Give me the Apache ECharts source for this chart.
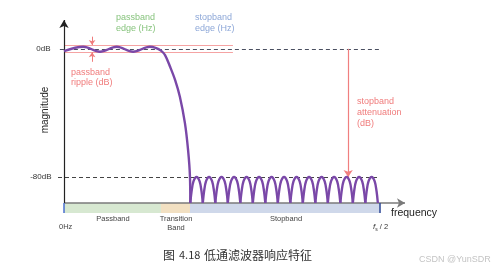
<!DOCTYPE html>
<html>
<head>
<meta charset="utf-8">
<script src="https://cdn.jsdelivr.net/npm/echarts@6/dist/echarts.min.js"></script>
<style>html,body{margin:0;padding:0;background:#fff}#c{width:494px;height:272px}</style>
</head>
<body>
<div id="c"></div>
<script>
// ---- data (x: 0 = 0 Hz, 100 = fs/2; y: dB) ----
const passbandX  = [0, 6.1, 11.4, 16.7, 21.9, 27.2, 29.0, 30.7, 32.0, 33.6, 35.2, 36.7, 38.3, 39.3, 39.9, 40.0];
const passbandDb = [-1.4, 1.3, -1.8, 1.3, -1.8, 1.3, 0.6, -1.1, -3.9, -11.2, -19.5, -29.9, -46.4, -63.3, -80.1, -96.25];

const stopbandLobesX = [
  [40.00, 40.40, 41.00, 41.98, 42.96, 43.56, 43.96],
  [43.96, 44.36, 44.96, 45.94, 46.92, 47.52, 47.92],
  [47.92, 48.32, 48.92, 49.90, 50.88, 51.48, 51.88],
  [51.88, 52.28, 52.88, 53.86, 54.84, 55.44, 55.84],
  [55.84, 56.24, 56.84, 57.82, 58.80, 59.40, 59.80],
  [59.80, 60.20, 60.80, 61.78, 62.76, 63.36, 63.76],
  [63.76, 64.16, 64.76, 65.74, 66.72, 67.32, 67.72],
  [67.72, 68.12, 68.72, 69.70, 70.68, 71.28, 71.68],
  [71.68, 72.08, 72.68, 73.66, 74.64, 75.24, 75.64],
  [75.64, 76.04, 76.64, 77.62, 78.60, 79.20, 79.60],
  [79.60, 80.00, 80.60, 81.58, 82.56, 83.16, 83.56],
  [83.56, 83.96, 84.56, 85.54, 86.52, 87.12, 87.52],
  [87.52, 87.92, 88.52, 89.50, 90.48, 91.08, 91.48],
  [91.48, 91.88, 92.48, 93.46, 94.44, 95.04, 95.44],
  [95.44, 95.84, 96.44, 97.42, 98.40, 99.00, 99.40]
];
const stopbandLobeDb = [-96.25, -89, -82.8, -80, -82.8, -89, -96.25];

const passbandEdge = 30.7;
const stopbandEdge = 39.9;
const fsHalf = 100;
const rippleUpper = 2.4;
const rippleLower = -2.1;
const stopbandAtten = -80;
const axisFloor = -96.25;
const bandFloor = -102.5;
const attenArrowX = 90;
const rippleArrowX = 8.9;

const bands = [
  { name: 'Passband',   from: 0,            to: passbandEdge, color: '#d7e8d1' },
  { name: 'Transition', from: passbandEdge, to: stopbandEdge, color: '#f2e0c2' },
  { name: 'Stopband',   from: stopbandEdge, to: fsHalf,       color: '#cfd8ea' }
];

const curveColor = '#7a48a8';
const FONT = '"Liberation Sans", Arial, sans-serif';

const chart = echarts.init(document.getElementById('c'), null, { renderer: 'canvas' });

function ml(from, to, color, opts) {
  opts = opts || {};
  const ls = { color: color, width: opts.width || 1, type: opts.type || 'solid' };
  return [
    { coord: from, symbol: opts.startSymbol || 'none', symbolSize: opts.size || 6, lineStyle: ls },
    { coord: to, symbol: opts.endSymbol || 'none', symbolSize: opts.size || 6, lineStyle: ls }
  ];
}

const lobeSeries = stopbandLobesX.map(xs => ({
  type: 'line',
  data: xs.map((x, i) => [x, stopbandLobeDb[i]]),
  showSymbol: false,
  smooth: 0.35,
  lineStyle: { color: curveColor, width: 2.4 },
  z: 5,
  animation: false,
  silent: true
}));

const option = {
  animation: false,
  grid: { left: 57.69, right: 89, top: 20, bottom: 59 },
  xAxis: { type: 'value', min: -2, max: 108, show: false },
  yAxis: { type: 'value', min: bandFloor, max: 18, show: false },
  graphic: [
    { type: 'text', x: 116, y: 12.5, style: { text: 'passband\nedge (Hz)', fill: '#88c47e', font: '9px ' + FONT, lineHeight: 10.5, align: 'left', verticalAlign: 'top' } },
    { type: 'text', x: 195, y: 12.5, style: { text: 'stopband\nedge (Hz)', fill: '#8ea8d8', font: '9px ' + FONT, lineHeight: 10.5, align: 'left', verticalAlign: 'top' } },
    { type: 'text', x: 71, y: 66.8, style: { text: 'passband\nripple (dB)', fill: '#f07c7c', font: '9px ' + FONT, lineHeight: 10.5, align: 'left', verticalAlign: 'top' } },
    { type: 'text', x: 357, y: 96, style: { text: 'stopband\nattenuation\n(dB)', fill: '#f07c7c', font: '9px ' + FONT, lineHeight: 11, align: 'left', verticalAlign: 'top' } },
    { type: 'text', x: 50.5, y: 49, style: { text: '0dB', fill: '#333', font: '8px ' + FONT, align: 'right', verticalAlign: 'middle' } },
    { type: 'text', x: 51.5, y: 177, style: { text: '-80dB', fill: '#333', font: '8px ' + FONT, align: 'right', verticalAlign: 'middle' } },
    { type: 'text', x: 45, y: 110, rotation: Math.PI / 2, style: { text: 'magnitude', fill: '#222', font: '10px ' + FONT, align: 'center', verticalAlign: 'middle' } },
    { type: 'text', x: 391, y: 213.5, style: { text: 'frequency', fill: '#222', font: '10.5px ' + FONT, align: 'left', verticalAlign: 'middle' } },
    { type: 'text', x: 113, y: 218.5, style: { text: 'Passband', fill: '#444', font: '7.5px ' + FONT, align: 'center', verticalAlign: 'middle' } },
    { type: 'text', x: 176, y: 214, style: { text: 'Transition\nBand', fill: '#444', font: '7.5px ' + FONT, lineHeight: 9, align: 'center', verticalAlign: 'top' } },
    { type: 'text', x: 286, y: 218.5, style: { text: 'Stopband', fill: '#444', font: '7.5px ' + FONT, align: 'center', verticalAlign: 'middle' } },
    { type: 'text', x: 59, y: 227, style: { text: '0Hz', fill: '#444', font: '7.5px ' + FONT, align: 'left', verticalAlign: 'middle' } },
    { type: 'text', x: 373, y: 227, style: {
        text: '{f|f}{s|s}{r| / 2}', align: 'left', verticalAlign: 'middle',
        rich: {
          f: { font: 'italic 8px ' + FONT, fill: '#333' },
          s: { font: '5px ' + FONT, fill: '#333', padding: [5, 0, 0, 0] },
          r: { font: '7.5px ' + FONT, fill: '#333' }
        } } },
    { type: 'text', x: 163, y: 255, style: { text: '图', fill: '#333', font: '12px "Noto Sans CJK SC"', align: 'left', verticalAlign: 'middle' } },
    { type: 'text', x: 179, y: 255, style: { text: '4.18', fill: '#333', font: '11px "Noto Sans CJK SC"', align: 'left', verticalAlign: 'middle' } },
    { type: 'text', x: 204, y: 255, style: { text: '低通滤波器响应特征', fill: '#333', font: '12px "Noto Sans CJK SC"', align: 'left', verticalAlign: 'middle' } },
    { type: 'text', x: 419, y: 260, style: { text: 'CSDN @YunSDR', fill: '#c4c4c4', font: '9px ' + FONT, align: 'left', verticalAlign: 'middle' } }
  ],
  series: [
    {
      type: 'line',
      data: [],
      silent: true,
      markArea: {
        silent: true,
        data: bands.map(b => [
          { coord: [b.from, bandFloor], itemStyle: { color: b.color } },
          { coord: [b.to, axisFloor] }
        ])
      },
      markLine: {
        silent: true,
        label: { show: false },
        emphasis: { disabled: true },
        data: [
          ml([passbandEdge, bandFloor], [passbandEdge, 21.1], '#a9d3a0', { width: 1.2 }),
          ml([stopbandEdge, bandFloor], [stopbandEdge, 21.1], '#aab9dd', { width: 1.2 }),
          ml([0, rippleUpper], [53.5, rippleUpper], '#f5a3a3', { width: 1.2 }),
          ml([0, rippleLower], [53.5, rippleLower], '#f5a3a3', { width: 1.2 }),
          ml([-1.3, 0], [fsHalf, 0], '#4a4f60', { width: 1, type: [4, 3] }),
          ml([-1.9, stopbandAtten], [99.4, stopbandAtten], '#444', { width: 1, type: [4, 3] }),
          ml([rippleArrowX, 7.6], [rippleArrowX, rippleUpper], '#f07c7c', { width: 1, endSymbol: 'arrow', size: [5, 5] }),
          ml([rippleArrowX, -8.1], [rippleArrowX, rippleLower], '#f07c7c', { width: 1, endSymbol: 'arrow', size: [5, 5] }),
          ml([attenArrowX, 0], [attenArrowX, stopbandAtten], '#f07f7f', { width: 1.2, endSymbol: 'arrow', size: [7, 7] }),
          ml([0, axisFloor], [108, axisFloor], '#7a7a7a', { width: 1.5, endSymbol: 'arrow', size: [7, 8] }),
          ml([0, axisFloor], [0, 18], '#222', { width: 1.2, endSymbol: 'arrow', size: [7, 8] }),
          ml([0, bandFloor], [0, axisFloor], '#4a6fd0', { width: 1.5 }),
          ml([fsHalf, bandFloor], [fsHalf, axisFloor], '#2a4595', { width: 1.5 })
        ]
      },
      z: 1
    },
    {
      type: 'line',
      data: [],
      silent: true,
      markLine: {
        silent: true,
        label: { show: false },
        emphasis: { disabled: true },
        data: [
          ml([passbandEdge, bandFloor], [passbandEdge, 21.1], '#4a4a4a', { width: 1, type: [4, 3] })
        ]
      },
      z: 2
    },
    {
      type: 'line',
      data: passbandX.map((x, i) => [x, passbandDb[i]]),
      showSymbol: false,
      smooth: 0.35,
      lineStyle: { color: curveColor, width: 2.4 },
      z: 5,
      silent: true
    }
  ].concat(lobeSeries)
};

chart.setOption(option);
</script>
</body>
</html>
